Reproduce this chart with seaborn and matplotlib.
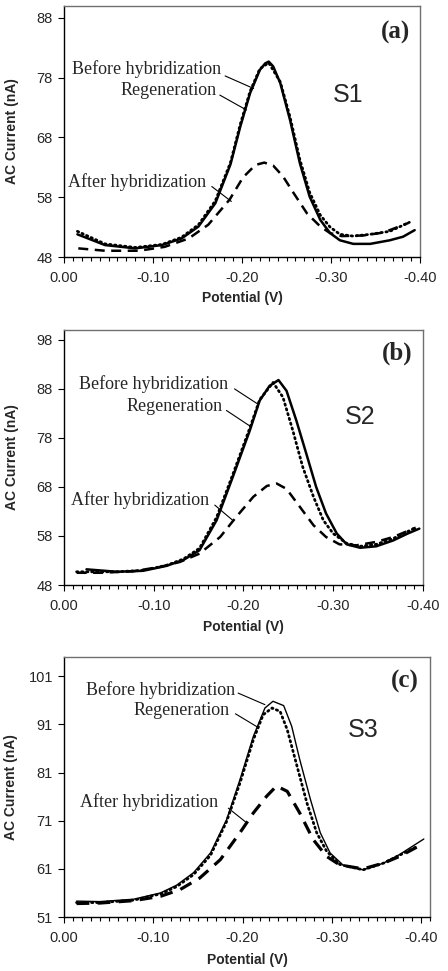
import numpy as np
import matplotlib
matplotlib.use("Agg")
import matplotlib.pyplot as plt
from matplotlib.ticker import MultipleLocator, FormatStrFormatter
import seaborn as sns

sns.set_style("white")
plt.rcParams["font.family"] = ["Liberation Sans", "DejaVu Sans"]

# ---- panel (a) : S1 ----
v_before_a = [-0.015, -0.046, -0.080, -0.110, -0.132, -0.151, -0.170, -0.187, -0.198, -0.209, -0.220,
              -0.226, -0.230, -0.235, -0.243, -0.254, -0.265, -0.276, -0.288, -0.299, -0.310, -0.325,
              -0.344, -0.366, -0.381, -0.394]
i_before_a = [51.8, 50.0, 49.45, 50.0, 51.1, 53.1, 57.0, 63.5, 69.8, 75.4, 79.3,
              80.4, 80.7, 79.9, 77.1, 70.9, 63.7, 58.1, 54.2, 52.0, 50.8, 50.2,
              50.2, 50.8, 51.4, 52.5]
v_regen_a = [-0.015, -0.046, -0.080, -0.110, -0.132, -0.151, -0.170, -0.187, -0.198, -0.209, -0.220,
             -0.230, -0.243, -0.254, -0.265, -0.276, -0.288, -0.299, -0.310, -0.325, -0.344, -0.366,
             -0.388]
i_regen_a = [52.3, 50.2, 49.6, 50.1, 51.3, 53.4, 57.4, 63.8, 70.2, 75.7, 79.5,
             80.5, 77.3, 71.4, 64.3, 58.8, 55.0, 53.0, 51.8, 51.5, 51.8, 52.3,
             53.8]
v_after_a = [-0.016, -0.046, -0.084, -0.113, -0.140, -0.162, -0.186, -0.201, -0.215, -0.225, -0.235,
             -0.246, -0.258, -0.273, -0.288, -0.299, -0.312, -0.336, -0.359, -0.387]
i_after_a = [49.45, 49.05, 49.05, 49.7, 51.1, 53.4, 57.6, 61.3, 63.4, 63.8, 63.3,
             61.5, 58.7, 55.3, 53.1, 52.0, 51.5, 51.6, 52.1, 53.7]

# ---- panel (b) : S2 ----
v_before_b = [-0.025, -0.059, -0.088, -0.114, -0.133, -0.151, -0.170, -0.188, -0.207, -0.218, -0.229,
              -0.239, -0.248, -0.259, -0.270, -0.281, -0.292, -0.304, -0.315, -0.330, -0.348, -0.367,
              -0.383, -0.396]
i_before_b = [51.2, 50.7, 50.9, 51.9, 53.1, 55.1, 61.2, 70.0, 79.5, 85.6, 88.6,
              89.8, 87.6, 81.5, 74.8, 68.0, 62.6, 58.5, 56.3, 55.6, 55.9, 57.1,
              58.5, 59.5]
v_regen_b = [-0.014, -0.059, -0.088, -0.114, -0.133, -0.151, -0.170, -0.188, -0.207, -0.218, -0.233,
             -0.244, -0.255, -0.266, -0.278, -0.289, -0.300, -0.315, -0.330, -0.348, -0.367, -0.392]
i_regen_b = [50.7, 50.7, 51.0, 52.0, 53.3, 55.5, 61.8, 70.5, 80.0, 85.8, 89.3,
             86.3, 79.5, 72.1, 66.0, 61.2, 58.5, 56.5, 55.9, 56.3, 57.5, 59.7]
v_after_b = [-0.014, -0.040, -0.077, -0.107, -0.129, -0.151, -0.174, -0.192, -0.211, -0.226, -0.237,
             -0.248, -0.263, -0.278, -0.292, -0.307, -0.326, -0.348, -0.367, -0.392]
i_after_b = [50.5, 50.5, 50.8, 51.7, 52.7, 54.4, 57.8, 61.9, 66.0, 68.2, 68.7,
             67.6, 63.9, 60.2, 57.8, 56.3, 56.1, 56.8, 57.8, 59.7]

# ---- panel (c) : S3 ----
v_before_c = [-0.014, -0.040, -0.078, -0.108, -0.126, -0.145, -0.164, -0.182, -0.197, -0.212, -0.225,
              -0.234, -0.246, -0.255, -0.264, -0.276, -0.287, -0.298, -0.313, -0.335, -0.358, -0.376,
              -0.403]
i_before_c = [54.3, 54.2, 54.7, 56.0, 57.6, 60.2, 64.3, 71.2, 79.5, 88.5, 94.4,
              95.8, 94.9, 90.6, 83.7, 75.4, 68.5, 64.3, 61.7, 60.8, 62.2, 64.0,
              67.2]
v_regen_c = [-0.014, -0.040, -0.078, -0.108, -0.126, -0.145, -0.164, -0.182, -0.197, -0.212, -0.223,
             -0.233, -0.242, -0.250, -0.261, -0.272, -0.283, -0.294, -0.309, -0.335, -0.358, -0.395]
i_regen_c = [54.0, 54.0, 54.5, 55.8, 57.3, 59.8, 63.8, 70.8, 78.8, 87.8, 93.0,
             94.4, 93.7, 89.9, 82.3, 74.7, 68.5, 64.7, 61.9, 60.8, 62.2, 65.6]
v_after_c = [-0.014, -0.040, -0.078, -0.108, -0.130, -0.152, -0.175, -0.197, -0.212, -0.227, -0.238,
             -0.250, -0.264, -0.279, -0.294, -0.309, -0.335, -0.358, -0.376, -0.395]
i_after_c = [53.8, 53.9, 54.4, 55.3, 56.7, 59.1, 62.9, 68.5, 72.6, 76.1, 78.2,
             77.1, 72.6, 67.1, 63.6, 61.8, 61.0, 62.2, 63.6, 65.5]

panel_tags = ["(a)", "(b)", "(c)"]
sample_names = ["S1", "S2", "S3"]
y_ranges = [(48, 90), (48, 100), (51, 105)]
y_ticks = [[48, 58, 68, 78, 88], [48, 58, 68, 78, 88, 98], [51, 61, 71, 81, 91, 101]]
x_ranges = [(0.0, -0.40), (0.0, -0.40), (0.0, -0.41)]
x_ticks = [0.0, -0.10, -0.20, -0.30, -0.40]

series = [
    [(v_before_a, i_before_a), (v_regen_a, i_regen_a), (v_after_a, i_after_a)],
    [(v_before_b, i_before_b), (v_regen_b, i_regen_b), (v_after_b, i_after_b)],
    [(v_before_c, i_before_c), (v_regen_c, i_regen_c), (v_after_c, i_after_c)],
]

# label text position (right edge) and leader line start/end, in data units
labels = ["Before hybridization", "Regeneration", "After hybridization"]
label_pos = [
    [(-0.177, 79.4, -0.181, 78.3, -0.213, 76.2),
     (-0.172, 75.9, -0.175, 75.1, -0.205, 72.6),
     (-0.160, 60.6, -0.166, 59.8, -0.188, 57.3)],
    [(-0.183, 88.9, -0.190, 88.0, -0.216, 84.9),
     (-0.177, 84.4, -0.181, 83.6, -0.209, 80.2),
     (-0.162, 65.3, -0.168, 64.3, -0.188, 61.2)],
    [(-0.192, 98.2, -0.195, 97.5, -0.225, 95.1),
     (-0.186, 93.9, -0.192, 93.2, -0.218, 90.3),
     (-0.173, 74.9, -0.184, 73.6, -0.205, 70.5)],
]

axes_rects = [
    [0.143, 0.7353, 0.7945, 0.2585],
    [0.143, 0.3975, 0.8010, 0.2626],
    [0.143, 0.0556, 0.8170, 0.2678],
]
tag_xy = [(0.93, 0.896), (0.928, 0.91), (0.932, 0.904)]
name_xy = [(0.798, 0.645), (0.825, 0.659), (0.817, 0.719)]
solid_width = [1.8, 1.8, 1.0]
dash_width = [1.8, 1.8, 2.3]

fig = plt.figure(figsize=(4.48, 9.71), dpi=100)

for k in range(3):
    ax = fig.add_axes(axes_rects[k])
    (vb, ib), (vr, ir), (va, ia) = series[k]
    sns.lineplot(x=vb, y=ib, ax=ax, sort=False, color="black", linewidth=solid_width[k])
    sns.lineplot(x=vr, y=ir, ax=ax, sort=False, color="black", linewidth=2.0,
                 linestyle=(0, (0.5, 1.3)), dash_capstyle="round")
    sns.lineplot(x=va, y=ia, ax=ax, sort=False, color="black", linewidth=dash_width[k],
                 linestyle=(0, (4.0, 2.6)))

    ax.set_xlim(*x_ranges[k])
    ax.set_ylim(*y_ranges[k])
    ax.set_xticks(x_ticks)
    ax.xaxis.set_minor_locator(MultipleLocator(0.01))
    ax.xaxis.set_major_formatter(FormatStrFormatter("%.2f"))
    ax.set_yticks(y_ticks[k])
    ax.tick_params(axis="both", which="major", direction="out", labelsize=10.5,
                   length=4, width=0.8, color="black", pad=4, bottom=True, left=True)
    ax.tick_params(axis="x", which="minor", direction="out", length=3, width=0.8,
                   color="black", bottom=True)
    ax.tick_params(axis="x", pad=6)

    for side in ["left", "bottom"]:
        ax.spines[side].set_color("black")
        ax.spines[side].set_linewidth(1.0)
    for side in ["top", "right"]:
        ax.spines[side].set_color("#707070")
        ax.spines[side].set_linewidth(1.0)

    ax.set_xlabel("Potential (V)", fontsize=10, fontweight="bold")
    ax.set_ylabel("AC Current (nA)", fontsize=10, fontweight="bold")
    ax.xaxis.set_label_coords(0.5, -0.165)
    ax.xaxis.label.set_va("center")
    ax.yaxis.set_label_coords(-0.146, 0.5)
    ax.yaxis.label.set_va("center")

    for name, (tx, ty, x0, y0, x1, y1) in zip(labels, label_pos[k]):
        ax.text(tx, ty, name, ha="right", va="center", fontsize=13,
                family=["Liberation Serif", "DejaVu Serif"])
        ax.annotate("", xy=(x1, y1), xytext=(x0, y0),
                    arrowprops=dict(arrowstyle="-", color="black", lw=0.8,
                                    shrinkA=0, shrinkB=0))

    ax.text(tag_xy[k][0], tag_xy[k][1], panel_tags[k], transform=ax.transAxes,
            ha="center", va="center", fontsize=18, fontweight="bold",
            family=["Liberation Serif", "DejaVu Serif"])
    ax.text(name_xy[k][0], name_xy[k][1], sample_names[k], transform=ax.transAxes,
            ha="center", va="center", fontsize=18)

fig.savefig("out.png", dpi=100)
